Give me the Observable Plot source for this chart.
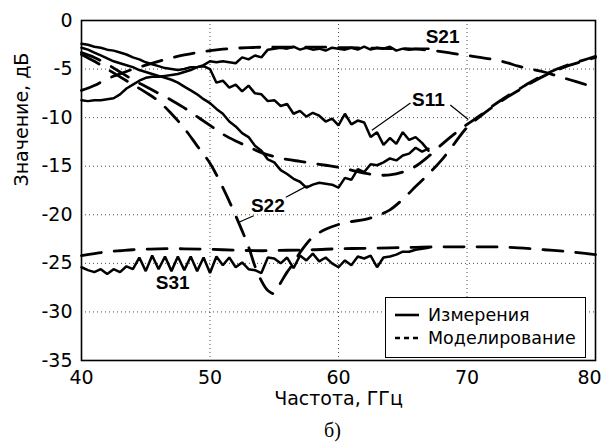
<!DOCTYPE html>
<html><head><meta charset="utf-8">
<script src="https://cdn.jsdelivr.net/npm/d3@7"></script>
<script src="https://cdn.jsdelivr.net/npm/@observablehq/plot@0.6"></script>
<style>body{margin:0;background:#fff;}</style>
</head><body><div id="chart"></div>
<script>
// ---- data ----
const xTicks = [40, 50, 60, 70, 80];
const yTicks = [0, -5, -10, -15, -20, -25, -30, -35];

// measured: 40..67 GHz, 0.5 GHz step
const measFreq = [40,40.5,41,41.5,42,42.5,43,43.5,44,44.5,45,45.5,46,46.5,47,47.5,48,48.5,49,49.5,50,50.5,51,51.5,52,52.5,53,53.5,54,54.5,55,55.5,56,56.5,57,57.5,58,58.5,59,59.5,60,60.5,61,61.5,62,62.5,63,63.5,64,64.5,65,65.5,66,66.5,67];
const s21Meas = [-8.2,-8.3,-8.2,-8.2,-8.1,-8.0,-7.6,-7.0,-6.6,-6.2,-5.9,-5.8,-5.8,-5.7,-5.6,-5.5,-5.3,-5.1,-4.8,-4.6,-4.2,-4.3,-4.2,-4.3,-4.4,-3.8,-4.0,-3.6,-3.8,-3.0,-2.9,-2.8,-2.9,-2.7,-3.0,-2.8,-3.0,-2.9,-3.1,-2.8,-2.9,-3.0,-2.8,-3.0,-2.7,-3.0,-2.8,-2.9,-2.7,-3.1,-2.9,-3.0,-2.9,-2.9,-2.9];
const s11Meas = [-2.4,-2.5,-2.7,-2.8,-3.0,-3.1,-3.3,-3.5,-3.8,-4.0,-4.3,-4.5,-4.7,-4.9,-5.0,-5.1,-5.0,-4.8,-4.8,-4.7,-5.0,-6.4,-6.2,-6.9,-6.6,-7.3,-6.7,-7.5,-7.6,-8.3,-8.2,-8.8,-8.6,-9.6,-9.3,-9.9,-9.5,-9.8,-10.4,-10.1,-10.8,-9.6,-10.7,-10.3,-10.5,-12.0,-11.5,-12.8,-12.1,-12.7,-11.5,-12.3,-12.0,-12.6,-13.4];
const s22Meas = [-2.8,-3.0,-3.3,-3.6,-3.9,-4.2,-4.4,-4.6,-4.8,-5.1,-5.3,-5.5,-5.7,-5.9,-6.1,-6.4,-6.8,-7.2,-7.6,-8.1,-8.5,-9.1,-9.6,-10.4,-10.9,-11.6,-12.0,-12.9,-13.4,-14.3,-14.6,-15.4,-15.8,-16.3,-16.6,-17.2,-16.9,-16.7,-16.8,-16.9,-17.2,-16.2,-16.4,-15.3,-15.6,-14.8,-14.9,-14.6,-14.2,-14.4,-13.9,-13.7,-13.1,-13.5,-13.2];
const s31Meas = [-25.4,-25.7,-25.9,-25.6,-26.1,-25.6,-25.9,-25.3,-25.6,-24.4,-25.8,-24.2,-25.6,-24.3,-25.8,-24.3,-25.7,-24.3,-25.8,-24.4,-26.0,-24.3,-25.2,-24.4,-25.4,-24.9,-25.6,-25.7,-26.0,-24.4,-24.5,-25.0,-24.4,-25.5,-24.2,-24.7,-24.0,-24.8,-24.4,-25.0,-25.4,-24.7,-25.2,-24.3,-24.5,-24.2,-25.4,-24.4,-24.3,-24.1,-23.8,-23.8,-23.6,-23.5,-23.4];

// simulated: 40..80 GHz, 1 GHz step
const simFreq = [40,41,42,43,44,45,46,47,48,49,50,51,52,53,54,55,56,57,58,59,60,61,62,63,64,65,66,67,68,69,70,71,72,73,74,75,76,77,78,79,80];
const s21Sim = [-7.2,-6.7,-6.0,-5.5,-5.0,-4.6,-4.2,-3.85,-3.55,-3.3,-3.1,-2.95,-2.85,-2.8,-2.75,-2.75,-2.75,-2.75,-2.75,-2.75,-2.8,-2.8,-2.85,-2.85,-2.9,-2.9,-2.95,-3.05,-3.2,-3.4,-3.6,-3.8,-4.0,-4.3,-4.7,-5.0,-5.3,-5.7,-6.1,-6.5,-6.9];
const s11Sim = [-3.3,-3.8,-4.5,-5.3,-6.1,-6.8,-7.5,-8.2,-9.0,-9.9,-10.8,-11.7,-12.4,-13.0,-13.6,-14.0,-14.3,-14.5,-14.7,-14.9,-15.1,-15.4,-15.7,-15.9,-15.9,-15.6,-15.0,-14.0,-12.8,-11.7,-10.7,-9.8,-8.8,-7.9,-7.1,-6.3,-5.6,-5.0,-4.5,-4.1,-3.7];
const s22SimFreq = [40,41,42,43,44,45,46,47,48,49,50,51,52,53,53.5,54,54.5,55,55.5,56,56.5,57,58,59,60,61,62,63,64,65,66,67,68,69,70,71,72,73,74,75,76,77,78,79,80];
const s22Sim = [-3.5,-4.2,-5.0,-5.8,-6.6,-7.4,-8.3,-9.6,-11.1,-12.9,-14.7,-17.2,-20.1,-23.3,-25.3,-26.8,-27.8,-28.1,-27.0,-25.9,-25.0,-23.9,-22.3,-21.5,-21.0,-20.7,-20.5,-20.1,-19.5,-18.4,-17.1,-15.8,-14.4,-12.7,-11.0,-9.9,-8.9,-8.0,-7.2,-6.4,-5.7,-5.1,-4.6,-4.2,-3.8];
const s31SimFreq = [40,41,42,43,44,45,46,48,50,52,54,56,58,60,62,64,66,68,70,72,74,76,78,80];
const s31Sim = [-24.2,-24.0,-23.8,-23.7,-23.6,-23.55,-23.5,-23.5,-23.55,-23.65,-23.7,-23.65,-23.6,-23.5,-23.45,-23.4,-23.35,-23.3,-23.3,-23.3,-23.4,-23.6,-23.8,-24.1];

// curve labels and leader lines
const labelNames = ["S21", "S11", "S22", "S31"];
const labelFreq = [68.1, 67.0, 54.5, 47.1];
const labelDb = [-1.7, -8.2, -19.1, -27.0];
const leaderFrom = [[65.6, -8.5], [68.7, -8.7], [55.9, -18.2], [53.4, -20.1]];
const leaderTo = [[62.6, -11.3], [70.1, -10.2], [57.6, -17.0], [52.2, -20.8]];

const legendNames = ["Измерения", "Моделирование"];
const xLabel = "Частота, ГГц";
const yLabel = "Значение, дБ";
const caption = "б)";

// ---- build ----
const zip = (fs, vs) => fs.map((f, i) => ({f, v: vs[i]}));
const measured = [s21Meas, s11Meas, s22Meas, s31Meas].map(v => zip(measFreq, v));
const simulated = [zip(simFreq, s21Sim), zip(simFreq, s11Sim), zip(s22SimFreq, s22Sim), zip(s31SimFreq, s31Sim)];
const labels = labelNames.map((t, i) => ({t, f: labelFreq[i], v: labelDb[i]}));
const leaders = leaderFrom.map((a, i) => ({x1: a[0], y1: a[1], x2: leaderTo[i][0], y2: leaderTo[i][1]}));

const marks = [
  Plot.gridX(xTicks, {stroke: "#000", strokeOpacity: 0.7, strokeDasharray: "1,3"}),
  Plot.gridY(yTicks, {stroke: "#000", strokeOpacity: 0.7, strokeDasharray: "1,3"}),
  Plot.axisX(xTicks.slice(0, -1), {tickSize: 0, tickPadding: 10, label: null, tickFormat: d => String(d), fontSize: 19}),
  Plot.axisX(xTicks.slice(-1), {tickSize: 0, tickPadding: 10, label: null, tickFormat: d => String(d), fontSize: 19, dx: -6}),
  Plot.axisY(yTicks, {tickSize: 0, tickPadding: 9, label: null, tickFormat: d => String(d), fontSize: 19}),
];
for (const s of simulated) {
  marks.push(Plot.line(s, {x: "f", y: "v", stroke: "#000", strokeWidth: 2.8, strokeDasharray: "20,13", curve: "catmull-rom"}));
}
for (const s of measured) {
  marks.push(Plot.line(s, {x: "f", y: "v", stroke: "#000", strokeWidth: 2.5, strokeLinejoin: "miter"}));
}
marks.push(
  Plot.link(leaders, {x1: "x1", y1: "y1", x2: "x2", y2: "y2", stroke: "#000", strokeWidth: 1.2}),
  Plot.text(labels, {x: "f", y: "v", text: "t", fontWeight: "bold", fontSize: 19, fontFamily: "Liberation Sans", fill: "#000"}),
  Plot.frame({stroke: "#000", strokeWidth: 1.6}),
  Plot.text([xLabel], {frameAnchor: "bottom", lineAnchor: "middle", dy: 38, text: d => d, fontSize: 19}),
  Plot.text([yLabel], {frameAnchor: "left", lineAnchor: "middle", dx: -60, dy: -4, rotate: -90, text: d => d, fontSize: 19}),
  Plot.text([caption], {frameAnchor: "bottom", lineAnchor: "middle", dx: -6, dy: 70, text: d => d, fontSize: 20, fontFamily: "Liberation Serif"})
);

const chart = Plot.plot({
  width: 603, height: 448,
  marginLeft: 81, marginRight: 8, marginTop: 20, marginBottom: 88,
  style: {fontFamily: "DejaVu Sans", fontSize: "19px", background: "white", color: "black"},
  x: {domain: [40, 80]},
  y: {domain: [-35, 0]},
  marks
});
document.getElementById("chart").appendChild(chart);

// legend box (lower right, inside the plot frame)
const svg = d3.select(chart);
const lg = svg.append("g").attr("font-family", "DejaVu Sans").attr("font-size", 17.5).attr("text-anchor", "start");
lg.append("rect").attr("x", 385.5).attr("y", 297.5).attr("width", 200).attr("height", 60)
  .attr("fill", "white").attr("stroke", "#000").attr("stroke-width", 1);
lg.append("line").attr("x1", 395).attr("x2", 419).attr("y1", 315).attr("y2", 315)
  .attr("stroke", "#000").attr("stroke-width", 2.6);
lg.append("line").attr("x1", 395).attr("x2", 419).attr("y1", 338).attr("y2", 338)
  .attr("stroke", "#000").attr("stroke-width", 2.6).attr("stroke-dasharray", "5,4");
lg.append("text").attr("x", 428).attr("y", 321).attr("fill", "#000").text(legendNames[0]);
lg.append("text").attr("x", 428).attr("y", 344).attr("fill", "#000").text(legendNames[1]);
</script>
</body></html>
